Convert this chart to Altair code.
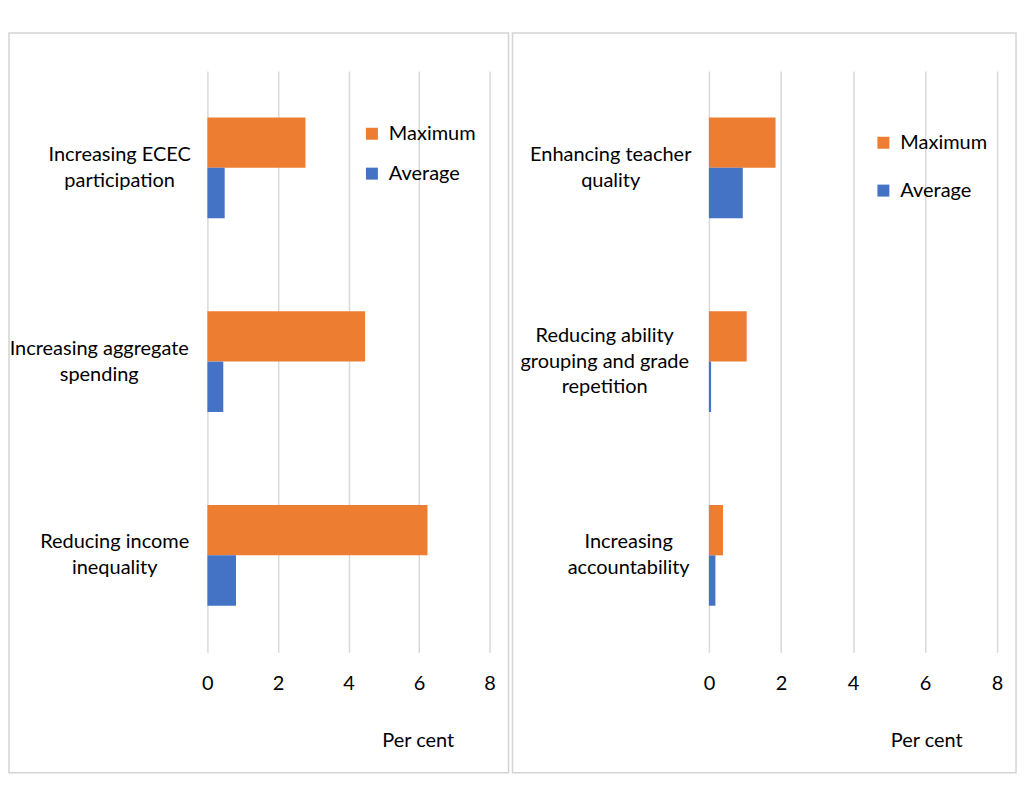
import json
import altair as alt
import pandas as pd

series = ["Maximum", "Average"]
colors = ["#ED7D31", "#4472C4"]

left_categories = ["Increasing ECEC\nparticipation", "Increasing aggregate\nspending", "Reducing income\ninequality"]
left_maximum = [2.78, 4.47, 6.24]
left_average = [0.49, 0.45, 0.81]

right_categories = ["Enhancing teacher\nquality", "Reducing ability\ngrouping and grade\nrepetition", "Increasing\naccountability"]
right_maximum = [1.85, 1.05, 0.39]
right_average = [0.94, 0.06, 0.18]

x_ticks = [0, 2, 4, 6, 8]
x_title = "Per cent"

FONT = "Lato"
FS = 20
LH = 26


def make_df(cats, mx, av):
    rows = []
    for c, m, a in zip(cats, mx, av):
        rows.append({"category": c, "series": "Maximum", "value": m})
        rows.append({"category": c, "series": "Average", "value": a})
    return pd.DataFrame(rows)


def panel(cats, mx, av, width, label_pads, title_x, legend_x, legend_y, row_pad, frame_left):
    df = make_df(cats, mx, av)
    height = 583
    pad_conds = [{"test": "datum.value === " + json.dumps(c), "value": p} for c, p in zip(cats, label_pads)]
    off_conds = [{"test": "datum.value === " + json.dumps(c), "value": -(c.count("\n")) * LH / 2}
                 for c in cats]
    bars = alt.Chart(df).mark_bar().encode(
        x=alt.X("value:Q", scale=alt.Scale(domain=[0, 8], nice=False),
                axis=alt.Axis(values=x_ticks, title=x_title, domain=False, ticks=False, tickSize=0,
                              grid=True, gridColor="#d9d9d9", gridWidth=1.5,
                              labelFont=FONT, labelFontSize=FS, labelColor="black", labelFlush=False,
                              titleFont=FONT, titleFontSize=FS, titleColor="black",
                              labelPadding=31, labelBaseline="middle",
                              titleX=title_x, titleY=89, titleAlign="center", titleBaseline="middle",
                              titleFontWeight="normal")),
        y=alt.Y("category:N", sort=cats, title=None,
                scale=alt.Scale(paddingInner=0.48, paddingOuter=0.24),
                axis=alt.Axis(domain=False, ticks=False, tickSize=0, grid=False,
                              labelFont=FONT, labelFontSize=FS, labelColor="black",
                              labelExpr="split(datum.label, '\\n')", labelAlign="center",
                              labelBaseline="middle", labelLineHeight=LH, labelLimit=400,
                              labelOffset={"condition": off_conds, "value": -13},
                              labelPadding={"condition": pad_conds, "value": 90})),
        yOffset=alt.YOffset("series:N", sort=series,
                            scale=alt.Scale(paddingInner=0, paddingOuter=0)),
        color=alt.Color("series:N", sort=series,
                        scale=alt.Scale(domain=series, range=colors),
                        legend=alt.Legend(title=None, orient="none", legendX=legend_x, legendY=legend_y,
                                          symbolType="square", symbolSize=144, symbolStrokeWidth=0,
                                          labelFont=FONT, labelFontSize=FS, labelColor="black",
                                          labelOffset=7, rowPadding=row_pad, padding=0)),
    )
    frame = alt.Chart(alt.Data(values=[{}])).mark_rect(
        fill="white", fillOpacity=0, stroke="#d4d4d4", strokeWidth=1.5
    ).encode(
        x=alt.value(frame_left), x2=alt.value(width + 19),
        y=alt.value(-38), y2=alt.value(height + 121),
    )
    return alt.layer(frame, bars).properties(width=width, height=height)


left = panel(left_categories, left_maximum, left_average, 283,
             [88.5, 109, 93.5], 211, 155, 53, 20, -199)
right = panel(right_categories, right_maximum, right_average, 289,
              [99, 105, 81], 218, 165, 62, 28, -197)

chart = alt.hconcat(left, right, spacing=2).resolve_scale(color="independent").resolve_legend(
    color="independent"
).properties(
    padding={"top": 23, "left": 0, "right": 0, "bottom": 0},
    background="white",
).configure_view(strokeWidth=0)

chart.save("out.html", embed_options={"renderer": "svg", "actions": False})
